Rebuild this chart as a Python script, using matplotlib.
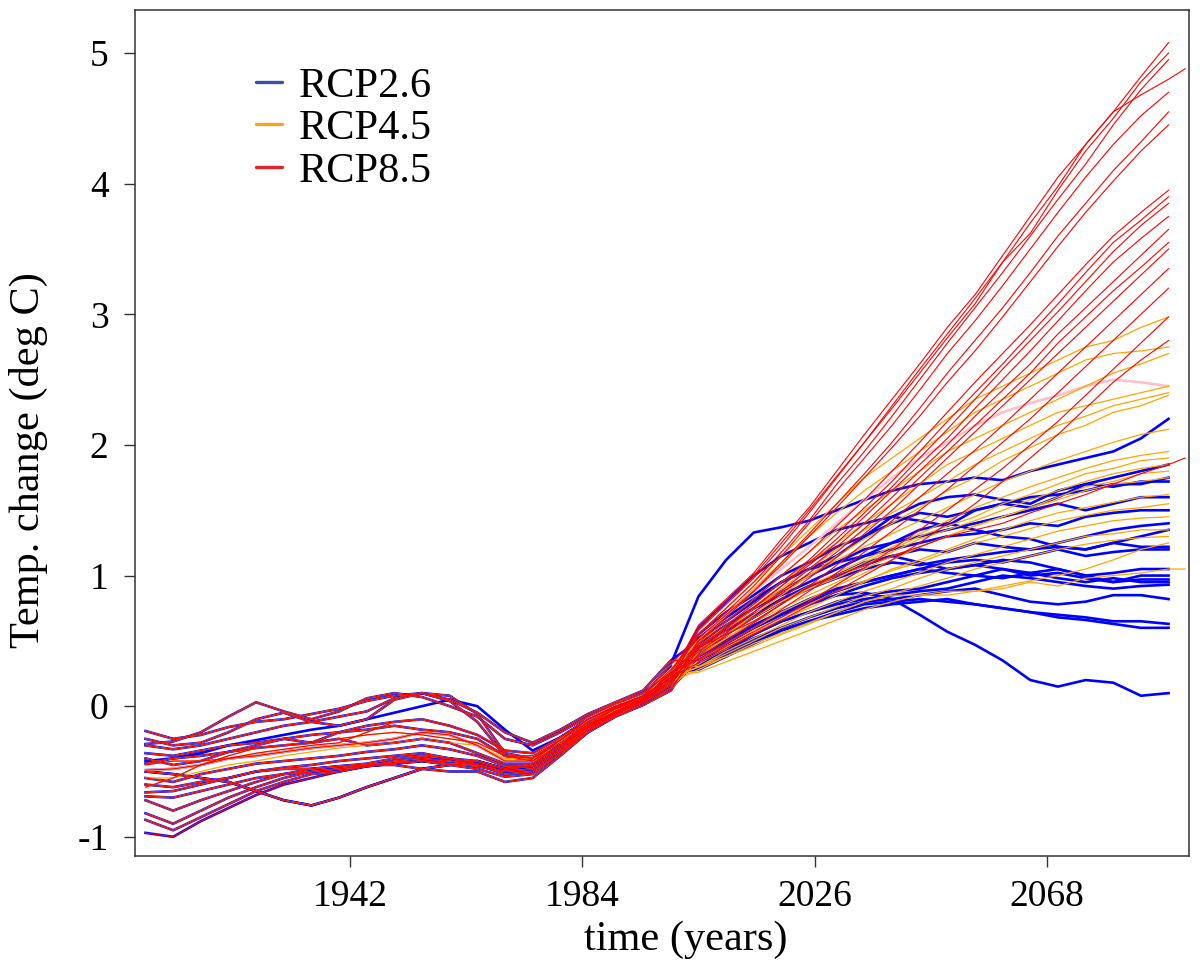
import matplotlib
matplotlib.use("Agg")
import matplotlib.pyplot as plt
from matplotlib.lines import Line2D

plt.rcParams['font.family'] = ['Liberation Serif', 'DejaVu Serif']
plt.rcParams['axes.unicode_minus'] = False

# sample years: shared historical part, then scenario projections
hist_years = list(range(1905, 2001, 5))
future_years = list(range(2005, 2091, 5))
tail_year = 2093

# historical model runs (deg C anomaly)
hist_runs = [
    [-0.19, -0.25, -0.22, -0.16, -0.12, -0.10, -0.06, -0.02, 0.04, 0.08, 0.10, 0.04, -0.12, -0.38, -0.42, -0.30, -0.12, -0.02, 0.08, 0.22],
    [-0.29, -0.27, -0.20, -0.08, 0.03, -0.04, -0.10, -0.04, 0.06, 0.10, 0.07, 0.00, -0.08, -0.25, -0.30, -0.20, -0.08, 0.02, 0.10, 0.26],
    [-0.30, -0.33, -0.30, -0.25, -0.20, -0.15, -0.12, -0.08, -0.04, 0.06, 0.10, 0.08, -0.06, -0.36, -0.40, -0.26, -0.10, 0.00, 0.08, 0.32],
    [-0.36, -0.38, -0.34, -0.30, -0.28, -0.25, -0.22, -0.20, -0.18, -0.15, -0.18, -0.20, -0.25, -0.38, -0.40, -0.28, -0.14, -0.04, 0.06, 0.18],
    [-0.40, -0.45, -0.42, -0.35, -0.30, -0.25, -0.28, -0.20, -0.15, -0.12, -0.10, -0.15, -0.22, -0.34, -0.36, -0.24, -0.10, -0.01, 0.08, 0.22],
    [-0.44, -0.40, -0.38, -0.35, -0.32, -0.30, -0.28, -0.25, -0.30, -0.28, -0.25, -0.28, -0.36, -0.44, -0.44, -0.30, -0.16, -0.05, 0.04, 0.16],
    [-0.49, -0.48, -0.45, -0.40, -0.38, -0.35, -0.32, -0.30, -0.28, -0.25, -0.20, -0.22, -0.30, -0.42, -0.42, -0.26, -0.10, 0.00, 0.08, 0.28],
    [-0.55, -0.58, -0.52, -0.48, -0.44, -0.42, -0.40, -0.38, -0.35, -0.33, -0.30, -0.33, -0.38, -0.46, -0.46, -0.32, -0.16, -0.04, 0.05, 0.20],
    [-0.60, -0.62, -0.58, -0.55, -0.50, -0.47, -0.45, -0.42, -0.40, -0.38, -0.36, -0.40, -0.45, -0.52, -0.50, -0.36, -0.18, -0.06, 0.03, 0.16],
    [-0.66, -0.65, -0.60, -0.55, -0.50, -0.48, -0.48, -0.46, -0.45, -0.45, -0.48, -0.50, -0.50, -0.58, -0.55, -0.38, -0.20, -0.08, 0.01, 0.12],
    [-0.50, -0.52, -0.55, -0.58, -0.65, -0.72, -0.76, -0.70, -0.62, -0.55, -0.48, -0.45, -0.42, -0.48, -0.46, -0.32, -0.16, -0.04, 0.04, 0.18],
    [-0.69, -0.70, -0.65, -0.60, -0.55, -0.52, -0.50, -0.48, -0.46, -0.44, -0.42, -0.44, -0.46, -0.50, -0.48, -0.34, -0.18, -0.06, 0.03, 0.20],
    [-0.72, -0.80, -0.72, -0.65, -0.58, -0.52, -0.48, -0.46, -0.44, -0.40, -0.38, -0.40, -0.42, -0.48, -0.44, -0.30, -0.14, -0.02, 0.06, 0.25],
    [-0.82, -0.90, -0.80, -0.70, -0.62, -0.55, -0.50, -0.48, -0.45, -0.43, -0.42, -0.45, -0.48, -0.54, -0.52, -0.36, -0.20, -0.07, 0.01, 0.14],
    [-0.87, -0.95, -0.85, -0.75, -0.65, -0.58, -0.52, -0.50, -0.46, -0.42, -0.40, -0.42, -0.45, -0.50, -0.48, -0.34, -0.17, -0.05, 0.04, 0.22],
    [-0.97, -1.00, -0.88, -0.78, -0.68, -0.60, -0.55, -0.50, -0.46, -0.44, -0.42, -0.40, -0.44, -0.48, -0.46, -0.32, -0.15, -0.04, 0.05, 0.26],
    [-0.25, -0.30, -0.28, -0.20, -0.10, -0.05, -0.12, -0.15, -0.10, 0.05, 0.10, 0.05, -0.05, -0.20, -0.28, -0.18, -0.06, 0.03, 0.12, 0.35],
    [-0.42, -0.40, -0.36, -0.30, -0.26, -0.22, -0.18, -0.15, -0.10, -0.05, 0.00, 0.05, 0.00, -0.18, -0.34, -0.24, -0.10, 0.00, 0.08, 0.30],
    [-0.62, -0.55, -0.45, -0.38, -0.32, -0.30, -0.28, -0.25, -0.22, -0.20, -0.22, -0.25, -0.28, -0.38, -0.38, -0.26, -0.12, -0.02, 0.06, 0.22],
    [-0.55, -0.55, -0.50, -0.45, -0.42, -0.38, -0.35, -0.32, -0.30, -0.28, -0.25, -0.28, -0.30, -0.40, -0.40, -0.28, -0.14, -0.03, 0.05, 0.18],
    [-0.45, -0.42, -0.42, -0.40, -0.36, -0.33, -0.30, -0.28, -0.20, -0.12, -0.10, -0.15, -0.22, -0.34, -0.36, -0.24, -0.10, 0.00, 0.07, 0.24],
]

# RCP2.6 projections, 2005..2090
rcp26 = [
    [0.84, 1.12, 1.33, 1.37, 1.42, 1.50, 1.58, 1.65, 1.70, 1.72, 1.75, 1.73, 1.80, 1.85, 1.90, 1.95, 2.05, 2.20],
    [0.60, 0.80, 1.00, 1.15, 1.25, 1.35, 1.40, 1.45, 1.55, 1.60, 1.62, 1.58, 1.55, 1.65, 1.70, 1.75, 1.80, 1.85],
    [0.55, 0.72, 0.85, 1.00, 1.10, 1.22, 1.30, 1.40, 1.48, 1.45, 1.50, 1.55, 1.60, 1.62, 1.65, 1.70, 1.70, 1.75],
    [0.50, 0.65, 0.80, 0.95, 1.05, 1.15, 1.30, 1.45, 1.42, 1.38, 1.50, 1.55, 1.52, 1.60, 1.70, 1.68, 1.72, 1.72],
    [0.45, 0.60, 0.75, 0.88, 1.00, 1.10, 1.20, 1.25, 1.30, 1.35, 1.40, 1.45, 1.50, 1.55, 1.50, 1.55, 1.60, 1.60],
    [0.52, 0.68, 0.82, 0.95, 1.05, 1.10, 1.15, 1.20, 1.25, 1.30, 1.32, 1.35, 1.40, 1.38, 1.45, 1.48, 1.50, 1.50],
    [0.40, 0.55, 0.70, 0.82, 0.92, 1.00, 1.10, 1.15, 1.20, 1.18, 1.25, 1.22, 1.20, 1.25, 1.30, 1.35, 1.38, 1.40],
    [0.48, 0.62, 0.75, 0.85, 0.95, 1.05, 1.15, 1.25, 1.35, 1.40, 1.35, 1.30, 1.28, 1.22, 1.20, 1.25, 1.30, 1.35],
    [0.42, 0.55, 0.68, 0.80, 0.90, 0.98, 1.05, 1.10, 1.08, 1.12, 1.15, 1.18, 1.20, 1.22, 1.20, 1.25, 1.22, 1.22],
    [0.38, 0.50, 0.62, 0.72, 0.80, 0.88, 0.95, 1.00, 1.05, 1.10, 1.12, 1.10, 1.15, 1.20, 1.15, 1.18, 1.20, 1.20],
    [0.45, 0.58, 0.70, 0.80, 0.90, 1.00, 1.08, 1.15, 1.10, 1.05, 1.08, 1.12, 1.10, 1.05, 1.00, 1.02, 1.05, 1.05],
    [0.35, 0.48, 0.60, 0.70, 0.78, 0.85, 0.92, 0.98, 1.02, 1.05, 1.08, 1.05, 1.00, 1.02, 0.98, 0.95, 1.00, 1.00],
    [0.40, 0.52, 0.62, 0.72, 0.82, 0.90, 0.95, 1.00, 1.05, 1.02, 1.00, 0.98, 1.02, 1.05, 1.00, 0.95, 0.97, 0.97],
    [0.30, 0.42, 0.55, 0.65, 0.72, 0.80, 0.85, 0.88, 0.90, 0.95, 1.00, 1.05, 1.02, 0.98, 0.95, 0.98, 0.95, 0.95],
    [0.35, 0.45, 0.55, 0.65, 0.72, 0.78, 0.82, 0.85, 0.88, 0.90, 0.95, 1.00, 0.98, 0.95, 0.92, 0.90, 0.92, 0.93],
    [0.32, 0.42, 0.52, 0.60, 0.68, 0.75, 0.80, 0.82, 0.85, 0.88, 0.90, 0.85, 0.80, 0.78, 0.80, 0.85, 0.85, 0.82],
    [0.28, 0.38, 0.48, 0.58, 0.65, 0.72, 0.78, 0.80, 0.82, 0.80, 0.78, 0.75, 0.72, 0.70, 0.68, 0.65, 0.65, 0.63],
    [0.30, 0.40, 0.50, 0.58, 0.65, 0.70, 0.75, 0.78, 0.80, 0.82, 0.78, 0.75, 0.72, 0.68, 0.66, 0.63, 0.60, 0.60],
    [0.35, 0.48, 0.60, 0.70, 0.78, 0.85, 0.87, 0.82, 0.70, 0.57, 0.47, 0.35, 0.20, 0.15, 0.20, 0.18, 0.08, 0.10],
]
rcp26_hist = [2, 0, 1, 16, 3, 4, 5, 6, 7, 8, 9, 10, 11, 12, 13, 14, 15, 17, 10]

# odd light pink run
pink_run = [0.50, 0.70, 0.88, 1.05, 1.22, 1.40, 1.58, 1.75, 1.90, 2.02, 2.15, 2.25, 2.32, 2.38, 2.45, 2.50, 2.48, 2.45]
pink_hist = 6

# RCP4.5 projections
rcp45 = [
    [0.55, 0.75, 0.95, 1.15, 1.35, 1.55, 1.75, 1.90, 2.05, 2.20, 2.35, 2.45, 2.55, 2.65, 2.75, 2.80, 2.90, 2.98],
    [0.50, 0.70, 0.90, 1.10, 1.30, 1.48, 1.65, 1.80, 1.95, 2.10, 2.25, 2.35, 2.45, 2.55, 2.65, 2.70, 2.72, 2.75],
    [0.48, 0.65, 0.82, 1.00, 1.18, 1.35, 1.50, 1.65, 1.80, 1.95, 2.05, 2.15, 2.25, 2.35, 2.45, 2.55, 2.62, 2.70],
    [0.45, 0.62, 0.78, 0.95, 1.10, 1.25, 1.40, 1.55, 1.70, 1.85, 1.95, 2.05, 2.15, 2.25, 2.30, 2.35, 2.40, 2.45],
    [0.42, 0.58, 0.75, 0.90, 1.05, 1.20, 1.35, 1.48, 1.60, 1.72, 1.85, 1.95, 2.05, 2.15, 2.22, 2.30, 2.35, 2.40],
    [0.40, 0.55, 0.70, 0.85, 1.00, 1.15, 1.28, 1.40, 1.52, 1.65, 1.75, 1.88, 1.98, 2.08, 2.15, 2.25, 2.30, 2.38],
    [0.45, 0.60, 0.75, 0.88, 1.00, 1.12, 1.22, 1.32, 1.42, 1.52, 1.62, 1.72, 1.80, 1.88, 1.95, 2.02, 2.08, 2.12],
    [0.40, 0.55, 0.68, 0.80, 0.92, 1.02, 1.12, 1.22, 1.32, 1.42, 1.52, 1.60, 1.68, 1.75, 1.82, 1.88, 1.92, 1.95],
    [0.38, 0.52, 0.65, 0.78, 0.90, 1.00, 1.10, 1.20, 1.30, 1.38, 1.45, 1.55, 1.62, 1.70, 1.78, 1.82, 1.88, 1.90],
    [0.42, 0.55, 0.68, 0.80, 0.90, 0.98, 1.08, 1.18, 1.28, 1.35, 1.42, 1.50, 1.58, 1.65, 1.72, 1.78, 1.82, 1.85],
    [0.35, 0.48, 0.60, 0.72, 0.82, 0.92, 1.02, 1.12, 1.22, 1.30, 1.38, 1.45, 1.52, 1.60, 1.68, 1.72, 1.78, 1.80],
    [0.40, 0.52, 0.64, 0.75, 0.85, 0.95, 1.05, 1.15, 1.22, 1.30, 1.38, 1.45, 1.52, 1.58, 1.65, 1.70, 1.72, 1.75],
    [0.32, 0.45, 0.56, 0.66, 0.75, 0.85, 0.95, 1.05, 1.12, 1.20, 1.28, 1.35, 1.42, 1.48, 1.52, 1.56, 1.60, 1.62],
    [0.35, 0.46, 0.58, 0.68, 0.78, 0.88, 0.96, 1.04, 1.10, 1.18, 1.25, 1.30, 1.36, 1.42, 1.46, 1.50, 1.52, 1.55],
    [0.30, 0.42, 0.52, 0.62, 0.72, 0.80, 0.88, 0.95, 1.02, 1.10, 1.16, 1.22, 1.28, 1.34, 1.38, 1.42, 1.44, 1.45],
    [0.30, 0.40, 0.50, 0.60, 0.68, 0.76, 0.84, 0.90, 0.98, 1.05, 1.10, 1.15, 1.20, 1.25, 1.30, 1.32, 1.35, 1.35],
    [0.28, 0.38, 0.48, 0.56, 0.64, 0.72, 0.80, 0.86, 0.92, 0.98, 1.05, 1.10, 1.15, 1.20, 1.24, 1.27, 1.29, 1.30],
    [0.26, 0.34, 0.42, 0.50, 0.58, 0.66, 0.74, 0.80, 0.85, 0.88, 0.88, 0.90, 0.95, 0.92, 0.98, 1.00, 1.02, 1.05],
    [0.30, 0.38, 0.46, 0.55, 0.63, 0.72, 0.80, 0.85, 0.85, 0.85, 0.88, 0.92, 0.96, 1.00, 1.05, 1.12, 1.20, 1.25],
]
rcp45_hist = [0, 1, 2, 3, 4, 5, 6, 7, 8, 9, 10, 11, 12, 13, 14, 18, 19, 20, 16]
rcp45_tail = {17: 1.05}

# RCP8.5 projections
rcp85 = [
    [0.62, 0.82, 1.02, 1.28, 1.52, 1.80, 2.08, 2.35, 2.62, 2.90, 3.15, 3.45, 3.75, 4.05, 4.30, 4.55, 4.82, 5.08],
    [0.58, 0.78, 0.98, 1.22, 1.48, 1.75, 2.02, 2.28, 2.55, 2.82, 3.08, 3.40, 3.62, 3.95, 4.25, 4.50, 4.78, 5.00],
    [0.55, 0.75, 0.95, 1.18, 1.42, 1.70, 1.95, 2.22, 2.50, 2.78, 3.05, 3.32, 3.60, 3.88, 4.15, 4.45, 4.72, 4.95],
    [0.60, 0.80, 1.00, 1.25, 1.50, 1.76, 2.02, 2.30, 2.58, 2.85, 3.12, 3.40, 3.70, 3.98, 4.30, 4.55, 4.68, 4.80],
    [0.55, 0.72, 0.92, 1.15, 1.40, 1.65, 1.90, 2.15, 2.42, 2.70, 2.95, 3.22, 3.50, 3.78, 4.05, 4.30, 4.52, 4.70],
    [0.50, 0.68, 0.88, 1.10, 1.32, 1.55, 1.78, 2.02, 2.28, 2.55, 2.80, 3.05, 3.32, 3.60, 3.85, 4.10, 4.32, 4.55],
    [0.52, 0.70, 0.88, 1.08, 1.30, 1.52, 1.75, 1.98, 2.22, 2.48, 2.72, 2.98, 3.25, 3.52, 3.78, 4.02, 4.25, 4.45],
    [0.50, 0.65, 0.82, 1.00, 1.18, 1.38, 1.58, 1.80, 2.02, 2.25, 2.48, 2.70, 2.92, 3.15, 3.38, 3.60, 3.78, 3.95],
    [0.48, 0.62, 0.78, 0.95, 1.12, 1.32, 1.52, 1.72, 1.95, 2.18, 2.40, 2.62, 2.85, 3.08, 3.32, 3.55, 3.72, 3.90],
    [0.45, 0.60, 0.75, 0.92, 1.10, 1.28, 1.48, 1.68, 1.90, 2.12, 2.35, 2.58, 2.80, 3.02, 3.25, 3.48, 3.68, 3.85],
    [0.46, 0.60, 0.76, 0.92, 1.08, 1.25, 1.45, 1.65, 1.85, 2.05, 2.28, 2.50, 2.72, 2.95, 3.18, 3.40, 3.58, 3.75],
    [0.42, 0.56, 0.72, 0.88, 1.05, 1.22, 1.40, 1.60, 1.80, 2.00, 2.22, 2.42, 2.62, 2.85, 3.05, 3.25, 3.45, 3.65],
    [0.44, 0.58, 0.72, 0.86, 1.02, 1.18, 1.36, 1.55, 1.75, 1.95, 2.15, 2.35, 2.55, 2.78, 2.98, 3.18, 3.36, 3.55],
    [0.40, 0.54, 0.68, 0.82, 0.98, 1.14, 1.32, 1.50, 1.70, 1.90, 2.10, 2.30, 2.50, 2.70, 2.90, 3.10, 3.30, 3.50],
    [0.38, 0.50, 0.64, 0.78, 0.92, 1.08, 1.25, 1.42, 1.60, 1.78, 1.96, 2.15, 2.35, 2.55, 2.75, 2.95, 3.15, 3.35],
    [0.36, 0.48, 0.60, 0.74, 0.88, 1.02, 1.18, 1.34, 1.50, 1.66, 1.84, 2.02, 2.20, 2.40, 2.60, 2.80, 3.00, 3.20],
    [0.35, 0.46, 0.57, 0.68, 0.80, 0.93, 1.06, 1.20, 1.35, 1.50, 1.66, 1.82, 2.00, 2.18, 2.38, 2.58, 2.78, 2.98],
    [0.33, 0.44, 0.55, 0.66, 0.77, 0.88, 1.00, 1.12, 1.25, 1.40, 1.55, 1.72, 1.90, 2.08, 2.28, 2.48, 2.65, 2.80],
    [0.45, 0.55, 0.65, 0.78, 0.92, 1.00, 1.08, 1.15, 1.22, 1.30, 1.35, 1.40, 1.48, 1.55, 1.62, 1.70, 1.78, 1.85],
]
rcp85_hist = [0, 1, 2, 3, 4, 5, 6, 7, 8, 9, 10, 11, 12, 13, 14, 15, 16, 18, 20]
rcp85_tail = {3: 4.88, 18: 1.90}

scenario_labels = ["RCP2.6", "RCP4.5", "RCP8.5"]
legend_colors = ["#3352a8", "#f8a51b", "#e8232a"]


def full_run(future, hist_idx, tail=None):
    xs = hist_years + future_years
    ys = hist_runs[hist_idx] + future
    if tail is not None:
        xs = xs + [tail_year]
        ys = ys + [tail]
    return xs, ys


fig = plt.figure(figsize=(12, 9.69), dpi=100)
ax = fig.add_axes([135 / 1200, 1 - 856 / 969, (1189 - 135) / 1200, (856 - 10) / 969])

# blue runs drawn first and thicker
for i, run in enumerate(rcp26):
    xs, ys = full_run(run, rcp26_hist[i])
    ax.plot(xs, ys, color="blue", lw=1.9, solid_joinstyle="round")

xs, ys = full_run(pink_run, pink_hist)
ax.plot(xs, ys, color="pink", lw=1.9)

for i, run in enumerate(rcp45):
    xs, ys = full_run(run, rcp45_hist[i], rcp45_tail.get(i))
    ax.plot(xs, ys, color="orange", lw=0.9)

for i, run in enumerate(rcp85):
    xs, ys = full_run(run, rcp85_hist[i], rcp85_tail.get(i))
    ax.plot(xs, ys, color="red", lw=0.8)

ax.set_xlim(1903.1, 2093.7)
ax.set_ylim(-1.147, 5.33)
ax.set_xticks([1942, 1984, 2026, 2068])
ax.set_yticks([-1, 0, 1, 2, 3, 4, 5])
ax.set_yticklabels(["-1", "0", "1", "2", "3", "4", "5"])
ax.tick_params(labelsize=27, length=8, width=1.0, color="#333333", pad=9)
ax.tick_params(axis="y", pad=11)
for sp in ax.spines.values():
    sp.set_color("#333333")
    sp.set_linewidth(1.1)

ax.set_xlabel("time (years)", fontsize=30.5)
ax.set_ylabel("Temp. change (deg C)", fontsize=30.5)
ax.xaxis.set_label_coords(0.5228, -0.0757)
ax.yaxis.set_label_coords(-0.083, 0.468)

handles = [Line2D([], [], color=c, lw=2.4, solid_capstyle="round") for c in legend_colors]
ax.legend(handles, scenario_labels, loc="upper left", bbox_to_anchor=(256 / 1200, 1 - 67 / 969),
          bbox_transform=fig.transFigure, frameon=False, fontsize=30.5, borderpad=0, borderaxespad=0,
          handlelength=0.62, handletextpad=0.4, labelspacing=0.09)

fig.savefig("out.png", dpi=100)
